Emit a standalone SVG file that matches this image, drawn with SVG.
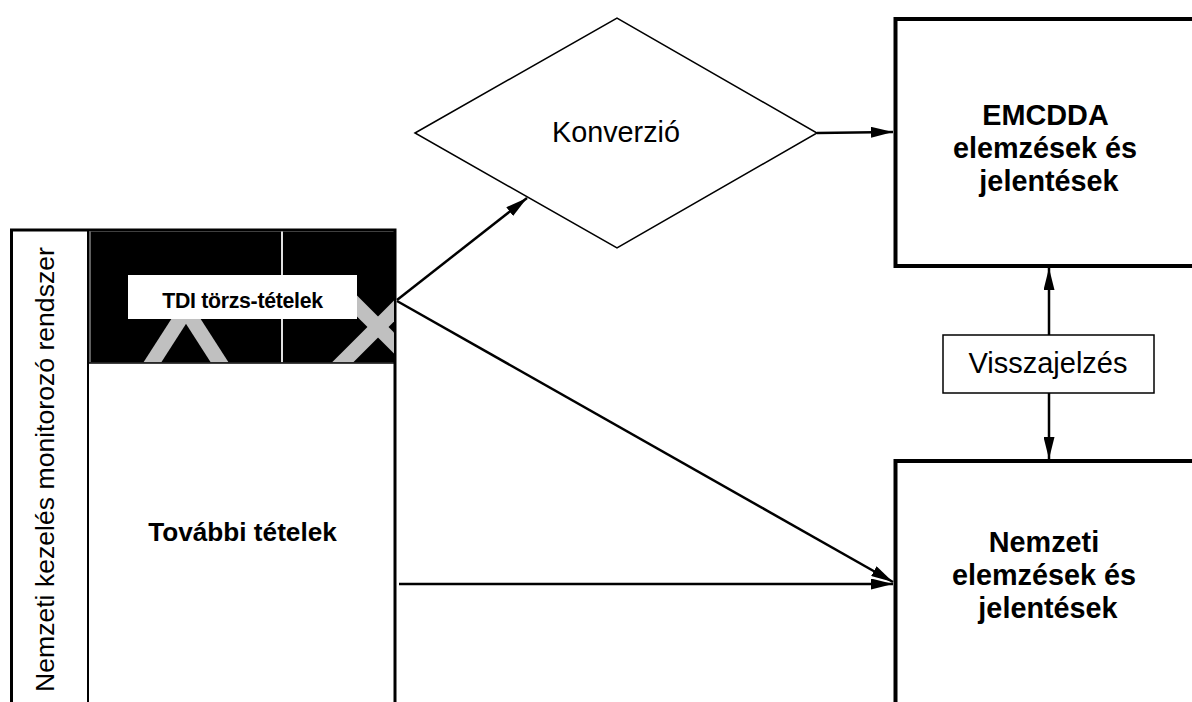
<svg xmlns="http://www.w3.org/2000/svg" width="1192" height="702" viewBox="0 0 1192 702">
<style>
  .t { font-family: "Liberation Sans", Arial, sans-serif; fill: #000; }
  .b { font-weight: bold; }
  .box { fill: #fff; stroke: #000; stroke-width: 4; }
  .conn { stroke: #000; stroke-width: 2.5; fill: none; marker-end: url(#ah); }
  .xarm { stroke: #c0c0c0; stroke-width: 15; fill: none; }
</style>
<defs>
  <marker id="ah" viewBox="0 0 22 11" refX="22" refY="5.5" markerWidth="22" markerHeight="11" markerUnits="userSpaceOnUse" orient="auto">
    <path d="M0,0 L22,5.5 L0,11 z" fill="#000"/>
  </marker>
  <clipPath id="blackclip">
    <rect x="89" y="231.5" width="305" height="131"/>
  </clipPath>
</defs>
<rect width="1192" height="702" fill="#fff"/>

<g id="national-system">
  <rect x="11.5" y="230" width="383.5" height="520" fill="#fff" stroke="#000" stroke-width="3"/>
  <g id="tdi-core">
    <rect x="89" y="231.5" width="305" height="131" fill="#000"/>
    <g clip-path="url(#blackclip)">
      <line x1="186" y1="310" x2="150" y2="366" class="xarm"/>
      <line x1="186" y1="310" x2="222" y2="366" class="xarm"/>
      <line x1="335" y1="284" x2="425" y2="374" class="xarm"/>
      <line x1="335" y1="370" x2="425" y2="280" class="xarm"/>
      <line x1="282" y1="231" x2="282" y2="363" stroke="#e0e0e0" stroke-width="2"/>
      <line x1="90" y1="231" x2="90" y2="363" stroke="#808080" stroke-width="1.5"/>
    </g>
    <rect x="128" y="275" width="229" height="44" fill="#fff"/>
    <text x="242.5" y="308" class="t b" font-size="21.3" text-anchor="middle" letter-spacing="-0.3">TDI törzs-tételek</text>
  </g>
  <line x1="88" y1="230" x2="88" y2="702" stroke="#000" stroke-width="2"/>
  <line x1="89" y1="363" x2="394" y2="363" stroke="#000" stroke-width="1.5"/>
  <text transform="translate(54,692) rotate(-90)" class="t" font-size="26.6">Nemzeti kezelés monitorozó rendszer</text>
  <text x="242.5" y="541" class="t b" font-size="26.2" text-anchor="middle">További tételek</text>
</g>

<g id="konverzio">
  <polygon points="415,133 617,18 817,133 617,248" fill="#fff" stroke="#000" stroke-width="1.5"/>
  <text x="616" y="142" class="t" font-size="28.8" text-anchor="middle">Konverzió</text>
</g>

<g id="emcdda">
  <rect x="895.5" y="19" width="320" height="247" class="box"/>
  <text class="t b" font-size="28.8" text-anchor="middle">
    <tspan x="1049" y="125">EMCDDA</tspan>
    <tspan x="1049" y="158">elemzések és</tspan>
    <tspan x="1049" y="191">jelentések</tspan>
  </text>
</g>

<g id="visszajelzes">
  <rect x="943" y="335" width="211" height="58" fill="#fff" stroke="#000" stroke-width="1.5"/>
  <text x="1048" y="373" class="t" font-size="29" text-anchor="middle">Visszajelzés</text>
</g>

<g id="nemzeti">
  <rect x="895.5" y="461" width="320" height="300" class="box"/>
  <text class="t b" font-size="28.8" text-anchor="middle">
    <tspan x="1048" y="552">Nemzeti</tspan>
    <tspan x="1048" y="585">elemzések és</tspan>
    <tspan x="1048" y="618">jelentések</tspan>
  </text>
</g>

<g id="connectors">
  <line x1="397" y1="300" x2="527" y2="198" class="conn"/>
  <line x1="817" y1="133" x2="893" y2="132" class="conn"/>
  <line x1="397" y1="301" x2="893" y2="582" class="conn"/>
  <line x1="399" y1="584" x2="893" y2="584" class="conn"/>
  <line x1="1049" y1="335" x2="1049" y2="268" class="conn"/>
  <line x1="1049" y1="393" x2="1049" y2="459" class="conn"/>
</g>
</svg>
